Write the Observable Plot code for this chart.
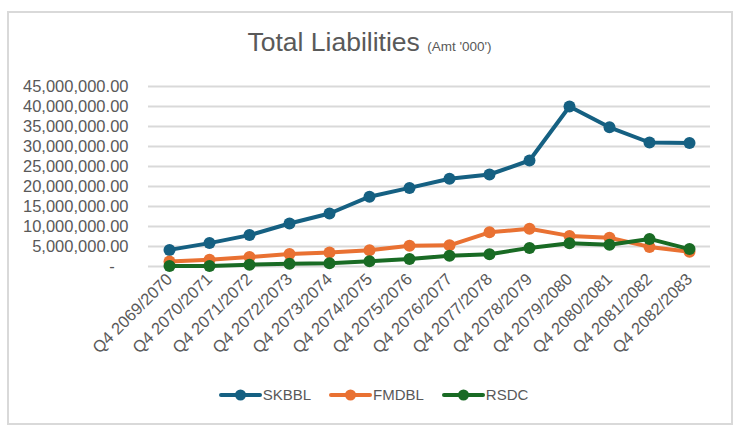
<!DOCTYPE html>
<html>
<head>
<meta charset="utf-8">
<script src="https://cdn.jsdelivr.net/npm/d3@7"></script>
<script src="https://cdn.jsdelivr.net/npm/@observablehq/plot@0.6"></script>
<style>
  html, body { margin: 0; padding: 0; background: #fff; }
  body { width: 739px; height: 432px; position: relative; overflow: hidden; font-family: "Liberation Sans", Arial, sans-serif; }
  #frame { position: absolute; left: 7px; top: 11px; width: 722px; height: 410px; border: 2px solid #d9d9d9; }
  #title { position: absolute; left: 0; width: 739px; top: 27px; text-align: center; color: #595959; font-size: 26.5px; white-space: nowrap; }
  #title span { font-size: 13.5px; }
  #chart { position: absolute; left: 0; top: 0; }
  #legend { position: absolute; left: 4px; width: 739px; top: 386px; display: flex; justify-content: center; gap: 18px; color: #595959; font-size: 15px; }
  #legend .item { display: flex; align-items: center; }
  #legend svg { margin-right: 1px; }
</style>
</head>
<body>
<div id="frame"></div>
<div id="chart"></div>
<div id="title">Total Liabilities <span>(Amt '000')</span></div>
<div id="legend"></div>
<script>
const categories = ["Q4 2069/2070","Q4 2070/2071","Q4 2071/2072","Q4 2072/2073","Q4 2073/2074","Q4 2074/2075","Q4 2075/2076","Q4 2076/2077","Q4 2077/2078","Q4 2078/2079","Q4 2079/2080","Q4 2080/2081","Q4 2081/2082","Q4 2082/2083"];
const seriesNames = ["SKBBL", "FMDBL", "RSDC"];
const seriesColors = ["#156082", "#E97132", "#196B24"];
const SKBBL = [4150000, 5850000, 7850000, 10750000, 13250000, 17450000, 19650000, 21950000, 23000000, 26500000, 40000000, 34800000, 31000000, 30900000];
const FMDBL = [1250000, 1700000, 2350000, 3100000, 3500000, 4050000, 5200000, 5300000, 8550000, 9450000, 7650000, 7200000, 4900000, 3700000];
const RSDC = [100000, 100000, 450000, 700000, 800000, 1300000, 1850000, 2700000, 3050000, 4650000, 5800000, 5450000, 6900000, 4350000];
const yTicks = [0, 5000000, 10000000, 15000000, 20000000, 25000000, 30000000, 35000000, 40000000, 45000000];

const seriesValues = [SKBBL, FMDBL, RSDC];
const data = [];
seriesNames.forEach((name, si) => {
  seriesValues[si].forEach((v, i) => data.push({series: name, period: categories[i], value: v}));
});

const fmt = d3.format(",.2f");
const chart = Plot.plot({
  width: 739,
  height: 432,
  marginLeft: 148,
  marginRight: 29,
  marginTop: 86,
  marginBottom: 166,
  style: { fontFamily: "'Liberation Sans', Arial, sans-serif", color: "#595959", background: "transparent" },
  x: { type: "point", domain: categories, padding: 0.5, label: null },
  y: { domain: [0, 45000000], ticks: yTicks, label: null },
  color: { domain: seriesNames, range: seriesColors },
  marks: [
    Plot.gridY(yTicks, { stroke: "#d9d9d9", strokeOpacity: 1, strokeWidth: 2 }),
    Plot.axisY(yTicks, {
      tickSize: 0, tickPadding: 20, fontSize: 16.5, fill: "#595959",
      tickFormat: d => d === 0 ? "-\u00a0\u00a0\u00a0" : fmt(d), label: null
    }),
    Plot.axisX({
      tickSize: 0, tickRotate: -45, tickPadding: 10, fontSize: 16.5, fill: "#595959", label: null
    }),
    Plot.line(data, { x: "period", y: "value", z: "series", stroke: "series", strokeWidth: 4, strokeLinejoin: "round", strokeLinecap: "round" }),
    Plot.dot(data, { x: "period", y: "value", fill: "series", r: 6 })
  ]
});
document.getElementById("chart").appendChild(chart);

const legend = d3.select("#legend");
seriesNames.forEach((name, i) => {
  const item = legend.append("div").attr("class", "item");
  const svg = item.append("svg").attr("width", 43).attr("height", 14);
  svg.append("line").attr("x1", 2).attr("x2", 41).attr("y1", 7).attr("y2", 7)
    .attr("stroke", seriesColors[i]).attr("stroke-width", 4).attr("stroke-linecap", "round");
  svg.append("circle").attr("cx", 21.5).attr("cy", 7).attr("r", 5.5).attr("fill", seriesColors[i]);
  item.append("span").text(name);
});
</script>
</body>
</html>
